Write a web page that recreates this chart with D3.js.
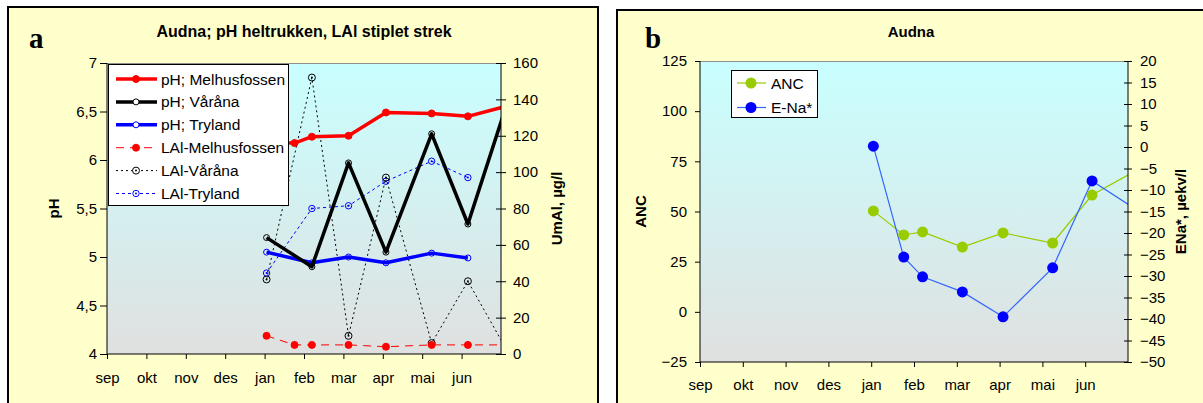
<!DOCTYPE html>
<html><head><meta charset="utf-8">
<script src="https://cdn.jsdelivr.net/npm/d3@7"></script>
<style>
body{margin:0;background:#fff;}
svg{display:block;font-family:"Liberation Sans",Arial,sans-serif;}
</style></head>
<body><svg id="c" width="1203" height="403"></svg>
<script>
// ---------- DATA ----------
const months = ["sep","okt","nov","des","jan","feb","mar","apr","mai","jun"];
// sampling times in months after 1 Sep (last one lies just beyond the axis end)
const sampleTimes = [4.05, 4.76, 5.2, 6.13, 7.08, 8.24, 9.16, 10.15];

const phMelhusfossen = [6.18, 6.175, 6.24, 6.25, 6.49, 6.48, 6.45, 6.556];
const phVarana       = [5.2, null, 4.9, 5.97, 5.05, 6.27, 5.34, 6.58];
const phTryland      = [5.05, null, 4.94, 5.0, 4.94, 5.04, 4.99, null];
const lalMelhusfossen= [10, 5, 5, 5, 4, 5, 5, 5];
const lalVarana      = [41, null, 152, 10, 97, 6, 40, 2];
const lalTryland     = [44.5, null, 80, 81.5, 95, 106, 97, null];

const anc = [50.3, 38.3, 39.8, 32.3, 39.3, 34.3, 58.2, 70];
const eNa = [0.2, -25.6, -30.2, -33.7, -39.5, -28.1, -7.9, -14.3];

const phTicks  = [4, 4.5, 5, 5.5, 6, 6.5, 7];
const lalTicks = [0, 20, 40, 60, 80, 100, 120, 140, 160];
const ancTicks = [-25, 0, 25, 50, 75, 100, 125];
const enaTicks = [-50,-45,-40,-35,-30,-25,-20,-15,-10,-5,0,5,10,15,20];

const titleA = "Audna; pH heltrukken, LAl stiplet strek";
const titleB = "Audna";

// ---------- DRAWING ----------
const svg = d3.select("#c");
const defs = svg.append("defs");
const grad = defs.append("linearGradient").attr("id","bg").attr("x1",0).attr("x2",0).attr("y1",0).attr("y2",1);
grad.append("stop").attr("offset","0%").attr("stop-color","#C9FFFF");
grad.append("stop").attr("offset","100%").attr("stop-color","#E0E0E0");

const fmt = d => String(d).replace(".", ",");

function series(vals){ return sampleTimes.map((t,i)=>({t, v: vals[i]})).filter(d=>d.v!=null); }

// panel backgrounds
svg.append("rect").attr("x",8).attr("y",7).attr("width",590).attr("height",420)
  .attr("fill","#FFFFCC").attr("stroke","#000").attr("stroke-width",2);
svg.append("rect").attr("x",617).attr("y",10).attr("width",700).attr("height",420)
  .attr("fill","#FFFFCC").attr("stroke","#000").attr("stroke-width",2);

// ===== Panel a =====
(function(){
  const L=107, R=501, T=63, B=354;
  const x = d3.scaleLinear().domain([0, months.length]).range([L, R]);
  const yL = d3.scaleLinear().domain([4,7]).range([B, T]);
  const yR = d3.scaleLinear().domain([0,160]).range([B, T]);
  const g = svg.append("g");
  g.append("rect").attr("x",L).attr("y",T).attr("width",R-L).attr("height",B-T).attr("fill","url(#bg)");
  g.append("line").attr("x1",L).attr("x2",R).attr("y1",T+0.5).attr("y2",T+0.5).attr("stroke","#909090");

  defs.append("clipPath").attr("id","clipA").append("rect").attr("x",L).attr("y",T-10).attr("width",R-L).attr("height",B-T+20);
  const pg = g.append("g").attr("clip-path","url(#clipA)");

  function draw(vals, y, color, width, dash, marker){
    const d = series(vals);
    const line = d3.line().x(p=>x(p.t)).y(p=>y(p.v));
    pg.append("path").datum(d).attr("d",line).attr("fill","none").attr("stroke",color)
      .attr("stroke-width",width).attr("stroke-dasharray",dash).attr("stroke-linejoin","round");
    pg.selectAll(null).data(d).enter().append("circle").attr("cx",p=>x(p.t)).attr("cy",p=>y(p.v))
      .attr("r",marker.r).attr("fill",marker.fill).attr("stroke",color).attr("stroke-width",1);
    if(marker.dot) pg.selectAll(null).data(d).enter().append("circle").attr("cx",p=>x(p.t)).attr("cy",p=>y(p.v))
      .attr("r",1).attr("fill",color);
  }
  const styles = [
    {vals:lalTryland, y:yR, c:"#0000FF", w:1, dash:"3,3", m:{r:3.2, fill:"none", dot:true}, name:"LAl-Tryland"},
    {vals:lalVarana, y:yR, c:"#000", w:1, dash:"2,3", m:{r:3.5, fill:"none", dot:true}, name:"LAl-Våråna"},
    {vals:lalMelhusfossen, y:yR, c:"#FF0000", w:1, dash:"8,6", m:{r:3.5, fill:"#FF0000"}, name:"LAl-Melhusfossen"},
    {vals:phTryland, y:yL, c:"#0000FF", w:3.5, dash:null, m:{r:3, fill:"none"}, name:"pH; Tryland"},
    {vals:phVarana, y:yL, c:"#000", w:3.5, dash:null, m:{r:3, fill:"none"}, name:"pH; Våråna"},
    {vals:phMelhusfossen, y:yL, c:"#FF0000", w:3.5, dash:null, m:{r:3.5, fill:"#FF0000"}, name:"pH; Melhusfossen"},
  ];
  styles.forEach(s=>draw(s.vals, s.y, s.c, s.w, s.dash, s.m));

  // axes
  const ax = g.append("g").attr("transform",`translate(${L},0)`)
    .call(d3.axisLeft(yL).tickValues(phTicks).tickFormat(fmt).tickSize(7).tickPadding(3));
  const axR = g.append("g").attr("transform",`translate(${R},0)`)
    .call(d3.axisRight(yR).tickValues(lalTicks).tickSize(5).tickPadding(7));
  axR.selectAll(".tick line").attr("x1",-5);
  const axB = g.append("g").attr("transform",`translate(0,${B})`)
    .call(d3.axisBottom(x).tickValues(d3.range(months.length)).tickFormat(i=>months[i]).tickSize(5).tickPadding(13));
  [ax,axR,axB].forEach(a=>{
    a.selectAll("text").attr("font-size",15).attr("font-family","Liberation Sans, Arial").attr("fill","#000");
    a.select(".domain").attr("stroke","#000");
  });
  axB.select(".domain").attr("d",`M${L},0H${R}`);
  ax.select(".domain").attr("d",`M0,${B}V${T}`);
  axR.select(".domain").attr("d",`M0,${B}V${T}`);

  // legend
  const lg = g.append("g");
  lg.append("rect").attr("x",108.5).attr("y",64.5).attr("width",180).attr("height",141).attr("fill","#fff").attr("stroke","#000");
  const order = [5,4,3,2,1,0];
  order.forEach((si,k)=>{
    const s = styles[si], yy = 79 + k*22.9;
    lg.append("line").attr("x1",116).attr("x2",157).attr("y1",yy).attr("y2",yy).attr("stroke",s.c)
      .attr("stroke-width",s.w).attr("stroke-dasharray",s.dash);
    lg.append("circle").attr("cx",136).attr("cy",yy).attr("r",s.m.r).attr("fill",s.m.fill==="none"?"#fff":s.m.fill).attr("stroke",s.c);
    if(s.m.dot) lg.append("circle").attr("cx",136).attr("cy",yy).attr("r",1).attr("fill",s.c);
    lg.append("text").attr("x",161).attr("y",yy).attr("dy","0.36em").attr("font-size",15.5).text(s.name);
  });

  svg.append("text").attr("x",(L+R)/2).attr("y",37).attr("text-anchor","middle").attr("font-weight","bold").attr("font-size",16).text(titleA);
  svg.append("text").attr("x",29).attr("y",48).attr("font-family","Liberation Serif, Times New Roman, serif").attr("font-weight","bold").attr("font-size",29).text("a");
  svg.append("text").attr("transform",`translate(54,${(T+B)/2}) rotate(-90)`).attr("text-anchor","middle").attr("dy","0.35em").attr("font-weight","bold").attr("font-size",15).text("pH");
  svg.append("text").attr("transform",`translate(557,${(T+B)/2}) rotate(-90)`).attr("text-anchor","middle").attr("dy","0.35em").attr("font-weight","bold").attr("font-size",15).text("UmAl, µg/l");
})();

// ===== Panel b =====
(function(){
  const L=700, R=1128, T=61, B=362;
  const x = d3.scaleLinear().domain([0, months.length]).range([L, R]);
  const yL = d3.scaleLinear().domain([-25,125]).range([B, T]);
  const yR = d3.scaleLinear().domain([-50,20]).range([B, T]);
  const g = svg.append("g");
  g.append("rect").attr("x",L).attr("y",T).attr("width",R-L).attr("height",B-T).attr("fill","url(#bg)");
  g.append("line").attr("x1",L).attr("x2",R).attr("y1",T+0.5).attr("y2",T+0.5).attr("stroke","#909090");
  defs.append("clipPath").attr("id","clipB").append("rect").attr("x",L).attr("y",T-10).attr("width",R-L).attr("height",B-T+20);
  const pg = g.append("g").attr("clip-path","url(#clipB)");

  const sB = [
    {vals:anc, y:yL, line:"#99CC00", fill:"#99CC00", name:"ANC"},
    {vals:eNa, y:yR, line:"#3366FF", fill:"#0000FF", name:"E-Na*"},
  ];
  sB.forEach(s=>{
    const d = series(s.vals);
    pg.append("path").datum(d).attr("d",d3.line().x(p=>x(p.t)).y(p=>s.y(p.v))).attr("fill","none").attr("stroke",s.line).attr("stroke-width",1.2);
  });
  sB.forEach(s=>{
    const d = series(s.vals);
    pg.selectAll(null).data(d).enter().append("circle").attr("cx",p=>x(p.t)).attr("cy",p=>s.y(p.v)).attr("r",5.5).attr("fill",s.fill);
  });

  const ax = g.append("g").attr("transform",`translate(${L},0)`)
    .call(d3.axisLeft(yL).tickValues(ancTicks).tickSize(5).tickPadding(8));
  const axR = g.append("g").attr("transform",`translate(${R},0)`)
    .call(d3.axisRight(yR).tickValues(enaTicks).tickSize(4).tickPadding(8));
  axR.selectAll(".tick line").attr("x1",-4);
  const axB = g.append("g").attr("transform",`translate(0,${B})`)
    .call(d3.axisBottom(x).tickValues(d3.range(months.length)).tickFormat(i=>months[i]).tickSize(5).tickPadding(12));
  [ax,axR,axB].forEach(a=>{
    a.selectAll("text").attr("font-size",15).attr("font-family","Liberation Sans, Arial").attr("fill","#000");
    a.select(".domain").attr("stroke","#000");
  });
  axB.select(".domain").attr("d",`M${L},0H${R}`);
  ax.select(".domain").attr("d",`M0,${B}V${T}`);
  axR.select(".domain").attr("d",`M0,${B}V${T}`);

  const lg = g.append("g");
  lg.append("rect").attr("x",731.5).attr("y",70.5).attr("width",86).attr("height",47).attr("fill","#fff").attr("stroke","#000");
  sB.forEach((s,k)=>{
    const yy = 83 + k*24.5;
    lg.append("line").attr("x1",737).attr("x2",766).attr("y1",yy).attr("y2",yy).attr("stroke",s.line).attr("stroke-width",1.2);
    lg.append("circle").attr("cx",751).attr("cy",yy).attr("r",5.5).attr("fill",s.fill);
    lg.append("text").attr("x",771).attr("y",yy).attr("dy","0.36em").attr("font-size",15.5).text(s.name);
  });

  svg.append("text").attr("x",(L+R)/2 - 3).attr("y",37).attr("text-anchor","middle").attr("font-weight","bold").attr("font-size",15).text(titleB);
  svg.append("text").attr("x",645).attr("y",48).attr("font-family","Liberation Serif, Times New Roman, serif").attr("font-weight","bold").attr("font-size",29).text("b");
  svg.append("text").attr("transform",`translate(641,${(T+B)/2}) rotate(-90)`).attr("text-anchor","middle").attr("dy","0.35em").attr("font-weight","bold").attr("font-size",15).text("ANC");
  svg.append("text").attr("transform",`translate(1181,${(T+B)/2}) rotate(-90)`).attr("text-anchor","middle").attr("dy","0.35em").attr("font-weight","bold").attr("font-size",15).text("ENa*, µekv/l");
})();
</script></body></html>
